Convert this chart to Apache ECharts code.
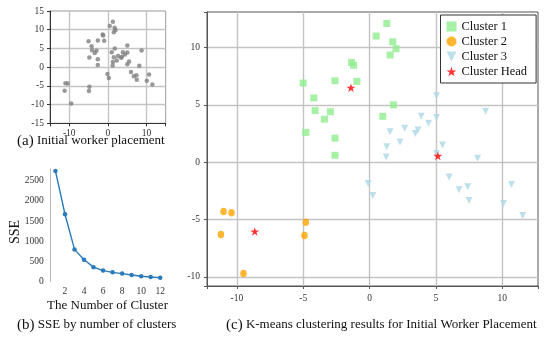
<!DOCTYPE html>
<html><head><meta charset="utf-8">
<script src="https://cdn.jsdelivr.net/npm/echarts@6/dist/echarts.min.js"></script>
<style>html,body{margin:0;padding:0;background:#fff}#c{width:550px;height:341px}</style>
</head><body><div id="c"></div>
<script>
// ---- data ----
const cluster1 = [[-5.0,6.9],[-4.2,5.6],[-4.1,4.5],[-4.8,2.6],[-3.4,3.75],[-2.95,4.4],[-2.6,7.1],[-2.6,2.1],[-2.6,0.6],[-1.35,8.7],[-1.2,8.45],[-0.95,7.05],[1.3,12.1],[0.5,11.0],[1.75,10.5],[2.0,9.9],[1.55,9.35],[1.8,5.0],[1.0,4.0]];
const cluster2 = [[-11.0,-4.3],[-10.4,-4.4],[-11.2,-6.3],[-9.5,-9.7],[-4.8,-5.25],[-4.9,-6.4]];
const cluster3 = [[5.05,5.8],[8.75,4.45],[3.9,4.0],[5.05,3.9],[4.45,3.4],[2.65,2.95],[3.65,2.8],[3.45,2.5],[1.55,2.65],[2.3,1.75],[1.3,1.35],[5.5,1.5],[5.05,0.75],[1.25,0.45],[8.15,0.35],[-0.1,-1.85],[0.25,-2.9],[6.0,-1.3],[6.75,-2.4],[7.4,-2.15],[7.5,-3.35],[10.7,-1.95],[10.1,-3.6],[11.55,-4.65]];
const clusterHeads = [[-1.4,6.5],[5.15,0.55],[-8.65,-6.05]];
const kValues = [1,2,3,4,5,6,7,8,9,10,11,12];
const sseValues = [2740,1670,800,545,360,275,232,200,166,135,116,99];
const placeTicksX = [-10,0,10];
const placeTicksY = [-15,-10,-5,0,5,10,15];
const kTicks = [2,4,6,8,10,12];
const sseTicks = [0,500,1000,1500,2000,2500];
const kmTicks = [-10,-5,0,5,10];
const legendNames = ['Cluster 1','Cluster 2','Cluster 3','Cluster Head'];
const captionA = 'Initial worker placement';
const captionB = 'SSE by number of clusters';
const captionC = 'K-means clustering results for Initial Worker Placement';
const xNameB = 'The Number of Cluster';
const yNameB = 'SSE';

const allWorkers = cluster1.concat(cluster2, cluster3);
const FONT = '"Liberation Serif", "Times New Roman", serif';
const TRI = 'path://M0,0 L10,0 L5,10 Z';
const STAR = 'path://M10,0 L12.25,6.91 L19.51,6.91 L13.63,11.18 L15.88,18.09 L10,13.82 L4.12,18.09 L6.37,11.18 L0.49,6.91 L7.75,6.91 Z';

const near = (v, list) => list.some(t => Math.abs(t - v) < 1e-9);
const lbl = (m, ticks) => ({fontFamily: FONT, fontSize: 9.5, color: '#333', margin: m,
  formatter: v => near(v, ticks) ? String(v) : ''});
const split = {show: true, showMinLine: false, showMaxLine: false, lineStyle: {color: '#c4c4c4', width: 1.4}};

const chart = echarts.init(document.getElementById('c'), null, {renderer: 'canvas'});
chart.setOption({
  animation: false,
  backgroundColor: '#fff',
  grid: [
    {left: 50, top: 11, width: 115.7, height: 112.3, show: true, borderColor: '#9a9a9a', borderWidth: 1},
    {left: 50.7, top: 168.6, width: 114.3, height: 113.1},
    {left: 207, top: 12, width: 331, height: 274, show: true, borderColor: '#555', borderWidth: 1}
  ],
  xAxis: [
    {gridIndex: 0, type: 'value', min: -15, max: 15, splitNumber: 3,
     axisLine: {onZero: false, lineStyle: {color: '#333'}}, axisTick: {show: true, length: 3},
     axisLabel: lbl(5, placeTicksX), splitLine: split},
    {gridIndex: 1, type: 'value', min: 0.5, max: 12.5, splitNumber: 6,
     axisLine: {show: false, onZero: false}, axisTick: {show: false},
     axisLabel: lbl(5, kTicks), splitLine: {show: false}},
    {gridIndex: 2, type: 'value', min: -12.25, max: 12.7, splitNumber: 5,
     axisLine: {onZero: false, lineStyle: {color: '#555'}}, axisTick: {show: true, length: 3},
     axisLabel: lbl(7, kmTicks), splitLine: split}
  ],
  yAxis: [
    {gridIndex: 0, type: 'value', min: -15, max: 15, splitNumber: 6,
     axisLine: {show: true, onZero: false, lineStyle: {color: '#333'}}, axisTick: {show: true, length: 3},
     axisLabel: lbl(6, placeTicksY), splitLine: split},
    {gridIndex: 1, type: 'value', min: 0, max: 2800, splitNumber: 6,
     axisLine: {show: true, onZero: false, lineStyle: {color: '#bbb'}}, axisTick: {show: false},
     axisLabel: lbl(7, sseTicks), splitLine: {show: false}},
    {gridIndex: 2, type: 'value', min: -10.8, max: 13.1, splitNumber: 5,
     axisLine: {show: true, onZero: false, lineStyle: {color: '#555'}}, axisTick: {show: true, length: 3},
     axisLabel: lbl(7, kmTicks), splitLine: split}
  ],
  legend: {
    data: legendNames, orient: 'vertical', left: 440.5, top: 15, z: 20,
    backgroundColor: '#fff', borderColor: '#333', borderWidth: 1,
    padding: [5, 9, 5, 6], itemGap: 2, itemWidth: 10, itemHeight: 10,
    textStyle: {fontFamily: FONT, fontSize: 12.5, color: '#111'}
  },
  series: [
    {type: 'scatter', xAxisIndex: 0, yAxisIndex: 0, data: allWorkers, symbol: 'circle', symbolSize: 4.5,
     itemStyle: {color: '#808080'}, silent: true, z: 3},
    {type: 'line', xAxisIndex: 1, yAxisIndex: 1, data: kValues.map((k, i) => [k, sseValues[i]]),
     symbol: 'circle', symbolSize: 4.5, showSymbol: true,
     lineStyle: {color: '#2b7bba', width: 1.4}, itemStyle: {color: '#2b7bba'}, silent: true, z: 3},
    {name: 'Cluster 1', type: 'scatter', xAxisIndex: 2, yAxisIndex: 2, data: cluster1, symbol: 'rect', symbolSize: 7,
     itemStyle: {color: '#90EE90'}, z: 3},
    {name: 'Cluster 2', type: 'scatter', xAxisIndex: 2, yAxisIndex: 2, data: cluster2, symbol: 'circle', symbolSize: [6.5, 7.5],
     itemStyle: {color: '#FFA500'}, z: 3},
    {name: 'Cluster 3', type: 'scatter', xAxisIndex: 2, yAxisIndex: 2, data: cluster3, symbol: TRI, symbolSize: [7, 7],
     itemStyle: {color: '#ADD8E6'}, z: 3},
    {name: 'Cluster Head', type: 'scatter', xAxisIndex: 2, yAxisIndex: 2, data: clusterHeads, symbol: STAR, symbolSize: 9,
     symbolKeepAspect: true, z: 5, itemStyle: {color: '#FF0000'}}
  ],
  graphic: [
    {type: 'text', x: 17, y: 141, style: {text: '{p|(a)} ' + captionA, fontFamily: FONT, fontSize: 13, fill: '#111',
      verticalAlign: 'middle', rich: {p: {fontSize: 15, fontFamily: FONT, fill: '#111'}}}},
    {type: 'text', x: 107.5, y: 306, style: {text: xNameB, fontFamily: FONT, fontSize: 13, fill: '#111', align: 'center', verticalAlign: 'middle'}},
    {type: 'text', x: 15, y: 232, rotation: Math.PI / 2, style: {text: yNameB, fontFamily: FONT, fontSize: 14, fill: '#111', align: 'center', verticalAlign: 'middle'}},
    {type: 'text', x: 17, y: 325, style: {text: '{p|(b)} ' + captionB, fontFamily: FONT, fontSize: 13, fill: '#111',
      verticalAlign: 'middle', rich: {p: {fontSize: 15, fontFamily: FONT, fill: '#111'}}}},
    {type: 'text', x: 226, y: 325, style: {text: '{p|(c)} ' + captionC, fontFamily: FONT, fontSize: 13, fill: '#111',
      verticalAlign: 'middle', rich: {p: {fontSize: 15, fontFamily: FONT, fill: '#111'}}}}
  ]
});
</script></body></html>
